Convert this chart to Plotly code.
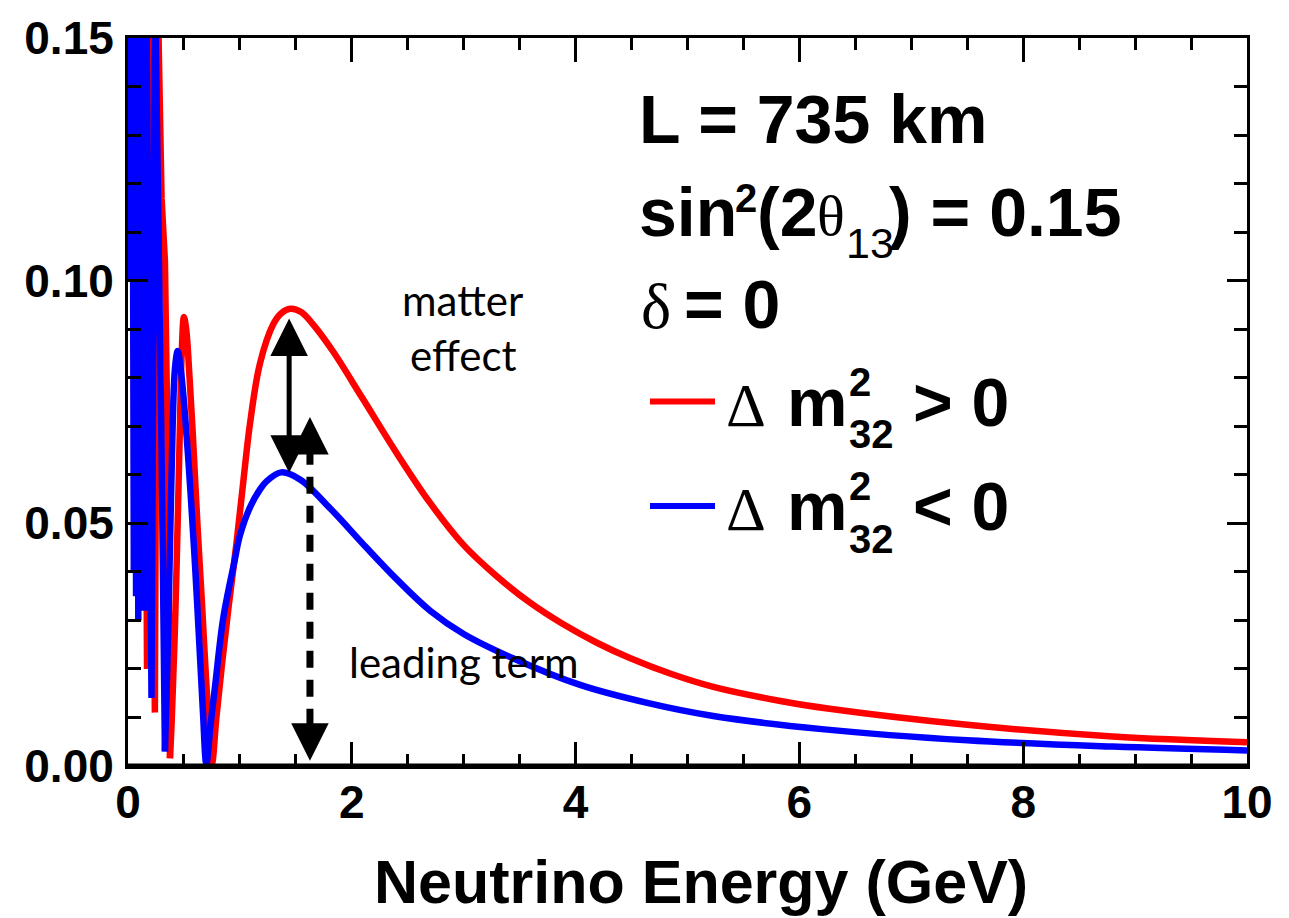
import plotly.graph_objects as go

# ---------------- data ----------------
# fast-oscillation region (E < ~0.38 GeV), values above 0.15 run off the frame
red_lowE = [0.010, 0.040, 0.060, 0.075, 0.090, 0.105, 0.125, 0.140, 0.170, 0.195,
            0.240, 0.265, 0.300, 0.330, 0.350, 0.362, 0.375]
red_lowP = [0.160, 0.160, 0.050, 0.160, 0.060, 0.160, 0.044, 0.160, 0.020, 0.160,
            0.011, 0.160, 0.117, 0.104, 0.072, 0.030, 0.0016]

blue_lowE = [0.008, 0.012, 0.016, 0.030, 0.040, 0.052, 0.062, 0.072, 0.082, 0.092,
             0.102, 0.112, 0.122, 0.132, 0.150, 0.165, 0.210, 0.242, 0.268, 0.300, 0.330]
blue_lowP = [0.101, 0.160, 0.100, 0.137, 0.160, 0.040, 0.160, 0.035, 0.160, 0.030,
             0.160, 0.040, 0.160, 0.045, 0.032, 0.160, 0.014, 0.160, 0.1215, 0.065, 0.003]

# smooth region
red_E = [0.375, 0.390, 0.420, 0.450, 0.465, 0.480, 0.500, 0.520, 0.550, 0.580,
         0.620, 0.660, 0.705, 0.750, 0.790, 0.840, 0.900, 0.970, 1.030, 1.090,
         1.180, 1.300, 1.370, 1.450, 1.550, 1.650, 1.830, 2.100, 2.400, 2.700,
         3.000, 3.290, 3.590, 3.890, 4.190, 4.490, 4.850, 5.230, 5.830, 6.270,
         7.500, 8.800, 10.00]
red_P = [0.0016, 0.009, 0.029, 0.056, 0.071, 0.085, 0.0925, 0.090, 0.080, 0.068,
         0.050, 0.034, 0.015, 0.0005, 0.010, 0.021, 0.033, 0.046, 0.0585, 0.0705,
         0.083, 0.0911, 0.0933, 0.0942, 0.0935, 0.0911, 0.0855, 0.0756, 0.0645, 0.0542,
         0.0455, 0.0392, 0.0337, 0.0292, 0.0254, 0.0222, 0.0190, 0.0163, 0.0134, 0.0118,
         0.0085, 0.0061, 0.0049]

blue_E = [0.330, 0.345, 0.360, 0.385, 0.400, 0.420, 0.444, 0.470, 0.500, 0.530,
          0.560, 0.600, 0.640, 0.670, 0.700, 0.740, 0.780, 0.850, 0.950, 1.000,
          1.090, 1.180, 1.240, 1.370, 1.540, 1.810, 2.130, 2.400, 2.700, 3.000,
          3.440, 4.040, 4.640, 5.230, 6.200, 7.500, 8.800, 10.00]
blue_P = [0.003, 0.015, 0.029, 0.056, 0.071, 0.082, 0.0855, 0.082, 0.075, 0.066,
          0.056, 0.041, 0.024, 0.011, 0.0005, 0.009, 0.0168, 0.0303, 0.042, 0.0475,
          0.0533, 0.0570, 0.0587, 0.0605, 0.0590, 0.0530, 0.0450, 0.0385, 0.0320, 0.0272,
          0.0222, 0.0167, 0.0130, 0.0103, 0.0076, 0.0053, 0.0040, 0.0032]

x_ticks = [0, 2, 4, 6, 8, 10]
y_ticks = [0.00, 0.05, 0.10, 0.15]

# annotation arrows (data coordinates)
matter_x, matter_top, matter_bot = 1.44, 0.0922, 0.0601
lead_x, lead_top, lead_bot = 1.626, 0.0719, 0.0011

# ---------------- layout geometry ----------------
W, H = 1289, 918
L0, R0, T0, B0 = 128, 1247, 27, 766
SANS = "Liberation Sans, Arial, sans-serif"
SERIF = "Liberation Serif, Times New Roman, serif"
HUM = "Lato, Open Sans, sans-serif"
RED, BLUE = "#ff0000", "#0000ff"


def PX(px):
    return (px - L0) / (R0 - L0)


def PY(py):
    return (B0 - py) / (B0 - T0)


METRICS = {SANS: (0.905, 0.212), SERIF: (0.891, 0.216), HUM: (0.987, 0.213)}


def label(text, left, baseline, size, family=SANS, weight="bold", anchor="left"):
    asc, desc = METRICS[family]
    center = baseline - (asc - desc) / 2 * size
    return dict(text=text, x=PX(left), y=PY(center), xref="paper", yref="paper",
                xanchor=anchor, yanchor="middle", showarrow=False, borderpad=0,
                font=dict(family=family, size=size, color="black", weight=weight))


fig = go.Figure()
lw = 6.5
fig.add_trace(go.Scatter(x=red_lowE, y=red_lowP, mode="lines",
                         line=dict(color=RED, width=lw), showlegend=False))
fig.add_trace(go.Scatter(x=red_E, y=red_P, mode="lines",
                         line=dict(color=RED, width=lw, shape="spline", smoothing=1.0),
                         showlegend=False))
fig.add_trace(go.Scatter(x=blue_lowE, y=blue_lowP, mode="lines",
                         line=dict(color=BLUE, width=lw), showlegend=False))
fig.add_trace(go.Scatter(x=blue_E, y=blue_P, mode="lines",
                         line=dict(color=BLUE, width=lw, shape="spline", smoothing=1.0),
                         showlegend=False))

annotations = []
# top-right text block
annotations += [
    label("L = 735 km", 638, 133, 68),
    label("sin", 638, 227, 68),
    label("2", 734, 203, 40),
    label("(2", 756, 227, 68),
    label("θ", 816, 227, 58, SERIF, "normal"),
    label("13", 845, 250, 43, SANS, "normal"),
    label(") = 0.15", 888, 227, 68),
    label("δ", 640, 321, 64, SERIF, "normal"),
    label("= 0", 683, 321, 68),
]
shapes = []
for i, (col, sym) in enumerate([(RED, ">"), (BLUE, "<")]):
    dy = i * 106
    shapes.append(dict(type="line", xref="paper", yref="paper",
                       x0=PX(650), x1=PX(715), y0=PY(396 + dy), y1=PY(396 + dy),
                       line=dict(color=col, width=6)))
    annotations += [
        label("Δ", 725, 420 + dy, 62, SERIF, "normal"),
        label("m", 786, 420 + dy, 68),
        label("2", 848, 390 + dy, 40),
        label("32", 848, 443 + dy, 40),
        label(sym + " 0", 912, 420 + dy, 68),
    ]

# comments
annotations += [
    label("matter", 462, 309, 42, HUM, "normal", "center"),
    label("effect", 463, 365, 42, HUM, "normal", "center"),
    label("leading term", 464, 677, 42, HUM, "normal", "center"),
]
# axis title
annotations.append(label("Neutrino Energy (GeV)", 701, 905, 61, SANS, "bold", "center"))

HEAD = dict(arrowhead=2, arrowsize=1.5, arrowwidth=5, arrowcolor="black")
# solid double arrow
annotations.append(dict(x=matter_x, y=matter_top, ax=matter_x, ay=matter_bot,
                        xref="x", yref="y", axref="x", ayref="y", text="",
                        showarrow=True, arrowside="end+start",
                        startarrowhead=2, startarrowsize=1.5, **HEAD))
# dashed arrow: heads + dashed shaft
annotations.append(dict(x=lead_x, y=lead_top, ax=0, ay=36, xref="x", yref="y",
                        text="", showarrow=True, **HEAD))
annotations.append(dict(x=lead_x, y=lead_bot, ax=0, ay=-36, xref="x", yref="y",
                        text="", showarrow=True, **HEAD))
shapes.append(dict(type="line", xref="x", yref="y", x0=lead_x, x1=lead_x,
                   y0=lead_bot + 0.0072, y1=lead_top - 0.007,
                   line=dict(color="black", width=7, dash="17px,12px")))
# thick bottom axis line
shapes.append(dict(type="line", xref="paper", yref="paper", x0=0, x1=1, y0=0, y1=0,
                   line=dict(color="black", width=5), layer="above"))

fig.update_layout(
    width=W, height=H,
    margin=dict(l=L0, r=W - R0, t=T0, b=H - B0),
    paper_bgcolor="white", plot_bgcolor="white",
    showlegend=False,
    annotations=annotations, shapes=shapes,
    xaxis=dict(range=[0, 10], tickvals=x_ticks, ticktext=[str(v) for v in x_ticks],
               showgrid=False, zeroline=False, showline=True, linecolor="black",
               linewidth=3, mirror="allticks", ticks="inside", ticklen=24,
               tickwidth=2.5, tickcolor="black", ticklabelstandoff=-6,
               tickfont=dict(family=SANS, size=46, color="black", weight="bold"),
               minor=dict(dtick=0.5, tick0=0, ticks="inside", ticklen=12,
                          tickwidth=2.5, tickcolor="black")),
    yaxis=dict(range=[0, 0.15], tickvals=y_ticks,
               ticktext=["%.2f" % v for v in y_ticks],
               showgrid=False, zeroline=False, showline=True, linecolor="black",
               linewidth=3, mirror="allticks", ticks="inside", ticklen=20,
               tickwidth=2.5, tickcolor="black", ticklabelstandoff=2,
               tickfont=dict(family=SANS, size=46, color="black", weight="bold"),
               minor=dict(dtick=0.01, tick0=0, ticks="inside", ticklen=13,
                          tickwidth=2.5, tickcolor="black")),
)

fig.write_html("out.html")
